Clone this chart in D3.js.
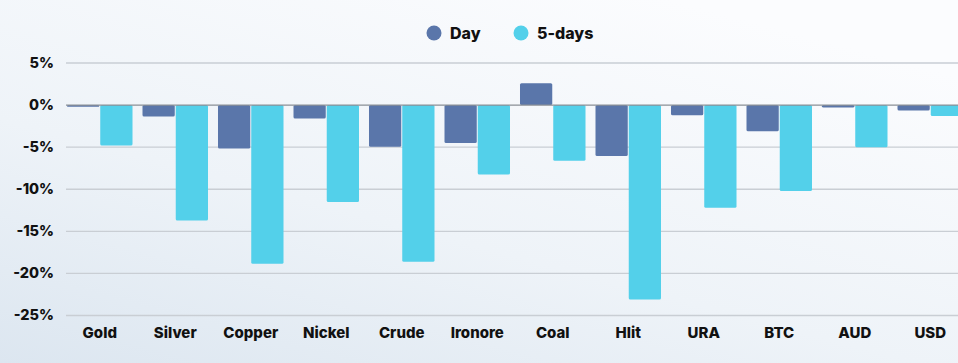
<!DOCTYPE html>
<html>
<head>
<meta charset="utf-8">
<script src="https://cdn.jsdelivr.net/npm/d3@7"></script>
<style>
  html, body { margin: 0; padding: 0; }
  body { width: 958px; height: 363px; overflow: hidden; }
  text { font-family: "Inter", "Open Sans", sans-serif; font-weight: 700; fill: #111; }
</style>
</head>
<body>
<script>
(function(){
'use strict';

var categories = ['Gold', 'Silver', 'Copper', 'Nickel', 'Crude', 'Ironore', 'Coal', 'Hlit', 'URA', 'BTC', 'AUD', 'USD'];
var dayValues = [-0.2, -1.35, -5.15, -1.6, -4.95, -4.5, 2.6, -6.05, -1.2, -3.1, -0.3, -0.65];
var fiveDayValues = [-4.8, -13.7, -18.85, -11.5, -18.6, -8.25, -6.6, -23.1, -12.2, -10.2, -5.0, -1.3];
var seriesNames = ['Day', '5-days'];
var seriesColors = ['#5a76aa', '#53d0ea'];
var yTicks = [5, 0, -5, -10, -15, -20, -25];

var width = 958;
var height = 363;

var svg = d3.select('body').append('svg')
	.attr('width', width)
	.attr('height', height);

// background
var defs = svg.append('defs');
var grad = defs.append('linearGradient')
	.attr('id', 'bg')
	.attr('x1', '0').attr('y1', '1')
	.attr('x2', '0.7').attr('y2', '0');
grad.append('stop').attr('offset', '0%').attr('stop-color', '#dce6f0');
grad.append('stop').attr('offset', '45%').attr('stop-color', '#eef3f8');
grad.append('stop').attr('offset', '100%').attr('stop-color', '#fbfcfe');
svg.append('rect')
	.attr('width', width)
	.attr('height', height)
	.attr('fill', 'url(#bg)');

var x = d3.scaleBand()
	.domain(categories)
	.range([62, 968])
	.paddingInner(0.106)
	.paddingOuter(0.053);

var xSub = d3.scaleBand()
	.domain(seriesNames)
	.range([0, x.bandwidth()])
	.padding(0.03);

var y = d3.scaleLinear()
	.domain([-25, 5])
	.range([315.5, 63]);

// grid
svg.append('g')
	.selectAll('line')
	.data(yTicks.filter(function(d){ return d !== 0; }))
	.enter()
	.append('line')
	.attr('x1', 66)
	.attr('x2', width)
	.attr('y1', function(d){ return y(d); })
	.attr('y2', function(d){ return y(d); })
	.attr('stroke', '#c9ced4')
	.attr('stroke-width', 1.3);

// y labels
var yAxis = d3.axisLeft(y)
	.tickValues(yTicks)
	.tickSize(0)
	.tickPadding(0)
	.tickFormat(function(d){ return d + '%'; });
var yg = svg.append('g')
	.attr('transform', 'translate(54,0)')
	.call(yAxis);
yg.select('.domain').remove();
yg.selectAll('text')
	.attr('font-size', 14.5)
	.attr('dy', '0.3em')
	.style('font-family', '"Inter", "Open Sans", sans-serif')
	.style('font-weight', 800)
	.attr('fill', '#111');

// x labels
var xAxis = d3.axisBottom(x).tickSize(0).tickPadding(0);
var xg = svg.append('g')
	.attr('transform', 'translate(0,327)')
	.call(xAxis);
xg.select('.domain').remove();
xg.selectAll('text')
	.attr('font-size', 15)
	.attr('dy', '0.75em')
	.style('font-family', '"Inter", "Open Sans", sans-serif')
	.style('font-weight', 800)
	.attr('fill', '#111');

// bars
var rows = categories.map(function(c, i){
	return {cat: c, values: [dayValues[i], fiveDayValues[i]]};
});

var groups = svg.append('g')
	.selectAll('g')
	.data(rows)
	.enter()
	.append('g')
	.attr('transform', function(d){ return 'translate(' + x(d.cat) + ',0)'; });

groups.selectAll('rect')
	.data(function(d){
		return d.values.map(function(v, j){ return {name: seriesNames[j], v: v, color: seriesColors[j]}; });
	})
	.enter()
	.append('rect')
	.attr('x', function(d){ return xSub(d.name); })
	.attr('width', xSub.bandwidth())
	.attr('y', function(d){ return Math.min(y(d.v), y(0)); })
	.attr('height', function(d){ return Math.max(1, Math.abs(y(d.v) - y(0))); })
	.attr('rx', 1.5)
	.attr('fill', function(d){ return d.color; });

// zero line
svg.append('line')
	.attr('x1', 66)
	.attr('x2', width)
	.attr('y1', y(0))
	.attr('y2', y(0))
	.attr('stroke', '#8a8f96')
	.attr('stroke-width', 1.3);

// legend
var legend = svg.append('g');
var legendX = [434, 521];
seriesNames.forEach(function(name, i){
	legend.append('circle')
		.attr('cx', legendX[i])
		.attr('cy', 33)
		.attr('r', 7.5)
		.attr('fill', seriesColors[i]);
	legend.append('text')
		.attr('x', legendX[i] + 16)
		.attr('y', 33)
		.attr('dy', '0.35em')
		.attr('font-size', 16)
		.style('font-weight', 800)
		.text(name);
});

})();
</script>
</body>
</html>
